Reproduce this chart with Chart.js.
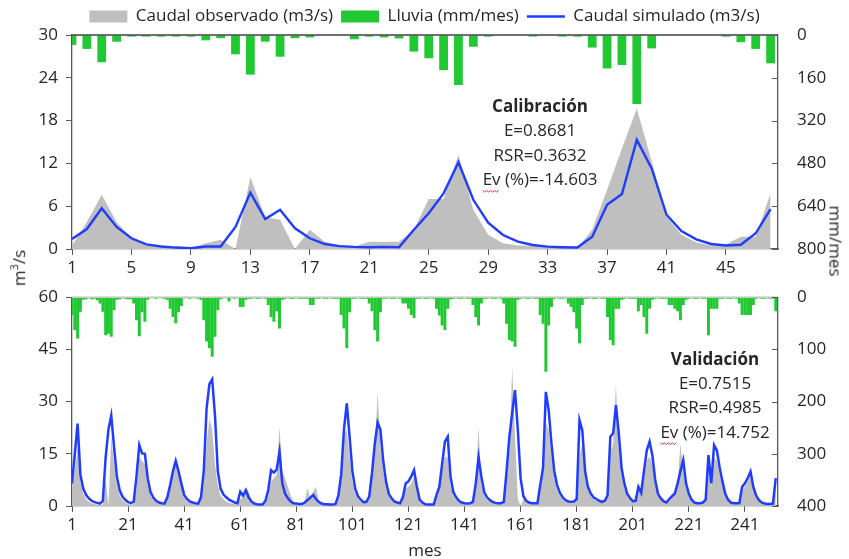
<!DOCTYPE html>
<html lang="es">
<head>
<meta charset="utf-8">
<script src="https://cdn.jsdelivr.net/npm/chart.js@4.4.1/dist/chart.umd.min.js"></script>
<style>
  html, body { margin: 0; padding: 0; background: #fff; }
  #wrap { position: relative; width: 849px; height: 559px; font-family: "Open Sans", sans-serif; color: #262626; }
  canvas { position: absolute; left: 0; }
  #cal { top: 0; }
  #val { top: 268px; }
  .eje { position: absolute; font-size: 17px; white-space: nowrap; transform-origin: center; }
</style>
</head>
<body>
<div id="wrap">
  <canvas id="cal" width="849" height="282"></canvas>
  <canvas id="val" width="849" height="291"></canvas>
  <div class="eje" style="left:18px;top:268px;transform:translate(-50%,-50%) rotate(-90deg)">m<sup style="font-size:11px">3</sup>/s</div>
  <div class="eje" style="left:836px;top:241px;transform:translate(-50%,-50%) rotate(90deg)">mm/mes</div>
  <div class="eje" style="left:425px;top:549px;transform:translate(-50%,-50%)">mes</div>
</div>
<script>
// Calibración (48 meses)
const qObsCal = [0.5, 3.8, 7.6, 3.8, 1.5, 0.5, 0.3, 0.15, 0.1, 0.8, 1.3, 0,
  10.1, 4.5, 4.1, 0, 2.7, 1.0, 0.5, 0.35, 1.0, 1.0, 1.0, 2.7,
  7.0, 7.0, 13.2, 5.5, 2.0, 0.8, 0.5, 0.5, 0.3, 0.2, 0.15, 2.7,
  8.3, 14.1, 19.7, 12.3, 4.6, 2.0, 0.9, 0.5, 0.65, 1.7, 1.7, 7.8];
const qSimCal = [1.4, 2.8, 5.7, 3.1, 1.5, 0.65, 0.35, 0.2, 0.1, 0.35, 0.35, 3.1,
  7.9, 4.2, 5.5, 2.9, 1.5, 0.7, 0.4, 0.3, 0.25, 0.3, 0.25, 2.7,
  5.0, 7.8, 12.15, 6.9, 3.7, 1.96, 1.03, 0.56, 0.33, 0.25, 0.2, 1.73,
  6.2, 7.7, 15.3, 11.3, 4.8, 2.5, 1.36, 0.7, 0.5, 0.6, 2.2, 5.6];
const lluviaCal = [37, 52, 102, 25, 6, 6, 6, 6, 6, 20, 12, 72,
  148, 25, 81, 12, 9, 0, 0, 16, 6, 9, 13, 62,
  87, 131, 187, 44, 6, 0, 0, 6, 0, 6, 6, 47,
  125, 112, 258, 50, 0, 0, 0, 0, 6, 27, 52, 106];
const ticksCal = [1, 5, 9, 13, 17, 21, 25, 29, 33, 37, 41, 45];

// Validación (252 meses)
const qObsVal = [5, 10, 17, 7, 3.5, 2, 1.2, 0.8, 0.5, 0.4, 0.3, 0.3,
  8, 0, 20, 12, 6, 3, 1.8, 1, 0.6, 0.5, 0.5, 5,
  14, 13, 12, 6, 3, 1.8, 1, 0.6, 0.5, 0.5, 2, 5,
  9, 13.5, 10, 6, 2.5, 1.4, 0.9, 0.6, 0.5, 0.5, 1.5, 6,
  18, 25, 22, 12, 6, 3, 2, 1.3, 0.9, 0.7, 0.5, 0.5,
  2, 2.5, 5, 4, 1, 0.5, 0.3, 0.3, 0.3, 1, 3, 7,
  8, 9, 22.8, 10, 8, 5.5, 3, 1.2, 0.6, 0.4, 0.4, 1.5,
  5.2, 2, 4, 5.5, 1.5, 0.5, 0.4, 0.3, 0.3, 0.3, 0.5, 2,
  7, 20, 22, 14, 7, 3.5, 2, 1.3, 0.9, 0.9, 2, 8,
  15, 32.8, 17, 10, 5.5, 2.8, 1.7, 1.1, 0.8, 0.7, 1.8, 5,
  5.5, 6.5, 8.5, 4, 1.2, 0.6, 0.4, 0.3, 0.3, 0.3, 2.5, 4.5,
  10, 14.2, 14, 6, 3, 1.8, 1.1, 0.7, 0.6, 0.5, 0.6, 1,
  5, 22.8, 6, 3, 1.8, 1.2, 0.9, 0.7, 0.6, 0.6, 1, 8,
  16, 40, 20, 2, 0, 2, 1, 0.7, 0.6, 0.6, 0.6, 4.5,
  10, 23.8, 22, 14, 8, 4.5, 3, 2, 1.3, 1, 1, 1,
  1.8, 14.2, 18, 8, 4.5, 3, 2, 1.5, 1.1, 0.9, 1.2, 2.5,
  15, 18, 35.2, 16, 9, 5, 2.8, 1.8, 1.1, 1.2, 4.5, 3,
  8, 13, 14.2, 12, 6, 2.8, 1.7, 1.1, 0.8, 1.6, 2.2, 3,
  6, 18, 10, 5, 2.8, 1.4, 0.8, 0.6, 0.6, 0.8, 1.4, 12,
  5.5, 14, 13, 9, 5.5, 2.8, 1.4, 0.8, 0.6, 0.6, 0.6, 4.5,
  5.5, 7, 8.4, 4.5, 2.4, 1.3, 0.8, 0.5, 0.5, 0.5, 0.6, 6];
const qSimVal = [6.5, 15, 23.7, 9, 5.0, 3.2, 2.2, 1.5, 1.1, 0.9, 0.7, 1.5,
  14, 22, 26, 17, 8.5, 4.5, 2.7, 1.8, 1.1, 0.9, 1.2, 8.5,
  17.5, 15.1, 15.0, 8, 4, 2.4, 1.5, 1.0, 0.8, 0.7, 2.5, 6,
  10, 13, 10, 6.5, 3.2, 2, 1.3, 1.0, 0.8, 0.7, 2.5, 10,
  28, 35, 36.4, 26, 10, 5, 3.3, 2.5, 1.8, 1.4, 1.0, 0.8,
  4.1, 3.0, 4.6, 2.5, 1.3, 0.7, 0.5, 0.4, 0.4, 1.5, 4.6, 10.3,
  9.6, 10.5, 15.6, 6.5, 3.5, 2.2, 1.3, 0.8, 0.7, 0.6, 0.6, 1.0,
  1.7, 2.4, 3.2, 2.0, 1.2, 0.7, 0.5, 0.5, 0.4, 0.4, 0.6, 3,
  9, 22, 29.5, 20, 10, 5, 2.8, 1.8, 1.1, 1.2, 2.7, 9.5,
  18, 24, 22, 13, 7, 3.5, 2.2, 1.3, 1.0, 0.8, 2.5, 6.5,
  7.1, 8.5, 10.3, 5.5, 1.8, 1.0, 0.5, 0.4, 0.4, 0.4, 3.2, 5.5,
  12, 18.5, 19.9, 8.5, 4, 2.5, 1.5, 1.0, 0.8, 0.7, 0.8, 1.2,
  6.5, 14, 8.5, 4, 2.5, 1.7, 1.2, 0.9, 0.8, 0.8, 1.2, 10,
  20, 26.6, 33.3, 22, 8, 2.8, 1.5, 1.0, 0.8, 0.8, 0.8, 6,
  11, 32.8, 27.6, 18, 10, 6, 3.8, 2.5, 1.7, 1.3, 1.2, 1.3,
  2, 24.7, 21.8, 10, 5.5, 3.6, 2.5, 2.0, 1.5, 1.2, 1.5, 3,
  19.9, 20.9, 29, 21, 11, 6.5, 3.5, 2.3, 1.4, 1.5, 5.5, 3.8,
  10, 16, 18.5, 14.5, 7.5, 3.5, 2.2, 1.4, 1.0, 2.0, 2.8, 3.6,
  6.5, 10, 13.2, 6.5, 3.5, 1.8, 1.0, 0.8, 0.8, 1.0, 1.8, 14.6,
  6.5, 17.5, 16, 11, 7, 3.5, 1.8, 1.0, 0.8, 0.8, 0.8, 5.5,
  6.5, 8, 9.9, 5.5, 3, 1.7, 1.0, 0.7, 0.6, 0.6, 0.7, 8];
const lluviaVal = [34, 63, 79, 28, 5, 4, 2, 4, 3, 6, 12, 28,
  73, 70, 76, 25, 5, 4, 2, 3, 4, 4, 12, 44,
  75, 29, 47, 5, 2, 2, 3, 2, 2, 3, 5, 22,
  38, 50, 29, 17, 2, 2, 3, 2, 2, 3, 5, 44,
  85, 98, 114, 76, 25, 4, 2, 2, 8, 2, 3, 2,
  19, 19, 5, 3, 3, 2, 3, 3, 2, 3, 15, 38,
  47, 27, 60, 5, 3, 2, 3, 3, 2, 3, 3, 3,
  3, 15, 15, 3, 3, 2, 3, 3, 2, 3, 3, 3,
  34, 60, 98, 29, 3, 3, 2, 3, 3, 3, 12, 27,
  63, 85, 29, 3, 3, 2, 3, 3, 2, 3, 12, 12,
  22, 34, 40, 3, 3, 2, 3, 3, 2, 3, 22, 35,
  54, 63, 22, 4, 3, 2, 3, 3, 2, 3, 3, 15,
  38, 54, 12, 3, 3, 2, 3, 3, 2, 3, 12, 51,
  82, 85, 95, 5, 3, 2, 3, 3, 2, 3, 3, 34,
  51, 143, 54, 19, 3, 2, 3, 3, 2, 12, 19, 29,
  60, 88, 15, 3, 3, 2, 3, 3, 2, 3, 3, 38,
  82, 92, 22, 22, 5, 3, 2, 3, 3, 3, 27, 15,
  38, 70, 22, 5, 3, 2, 3, 3, 3, 15, 15, 22,
  27, 44, 15, 5, 3, 2, 3, 3, 2, 3, 3, 73,
  22, 22, 22, 3, 3, 2, 3, 3, 2, 3, 12, 34,
  34, 34, 34, 15, 3, 2, 3, 3, 2, 3, 3, 27];
const ticksVal = [1, 21, 41, 61, 81, 101, 121, 141, 161, 181, 201, 221, 241];

const gris = '#bfbfbf';
const verde = '#20c832';
const azul = '#1f3cff';
const ejeColor = '#595959';
const fuente = { family: 'Open Sans', size: 17 };
const textoColor = '#262626';

// textos de indicadores, borde superior y marcas internas del eje derecho
const notasPlugin = {
  id: 'notas',
  afterDraw(chart, args, opts) {
    const { ctx, chartArea } = chart;
    const y2 = chart.scales.y2;
    ctx.save();
    ctx.strokeStyle = opts.borde;
    ctx.lineWidth = 1.3;
    ctx.beginPath();
    ctx.moveTo(chartArea.left, chartArea.top);
    ctx.lineTo(chartArea.right, chartArea.top);
    ctx.stroke();
    ctx.strokeStyle = ejeColor;
    ctx.lineWidth = 1;
    ctx.beginPath();
    y2.ticks.forEach(t => {
      const py = Math.round(y2.getPixelForValue(t.value)) + 0.5;
      ctx.moveTo(chartArea.right, py);
      ctx.lineTo(chartArea.right - 6, py);
    });
    ctx.stroke();
    ctx.fillStyle = textoColor;
    ctx.textAlign = 'center';
    ctx.textBaseline = 'middle';
    opts.lineas.forEach((t, i) => {
      ctx.font = (i === 0 ? 'bold ' : '') + '17px "Open Sans"';
      ctx.fillText(t, opts.x, opts.y + i * opts.paso);
    });
    // subrayado ondulado bajo "Ev"
    ctx.font = '17px "Open Sans"';
    const wLinea = ctx.measureText(opts.lineas[3]).width;
    const wEv = ctx.measureText('Ev').width;
    const x0 = opts.x - wLinea / 2;
    const yS = opts.y + 3 * opts.paso + 10;
    ctx.strokeStyle = '#e03030';
    ctx.lineWidth = 1;
    ctx.beginPath();
    for (let x = 0; x <= wEv; x += 2) {
      const py = yS + ((x / 2) % 2 === 0 ? 0 : 1.5);
      if (x === 0) ctx.moveTo(x0 + x, py); else ctx.lineTo(x0 + x, py);
    }
    ctx.stroke();
    ctx.restore();
  }
};

function escalas(xMax, xTicks, yMax, yStep, y2Max, y2Step, xAlto) {
  const grid = { display: true, offset: false, drawOnChartArea: false, drawTicks: true, tickLength: 6, color: ejeColor, lineWidth: 1 };
  const borde = { display: true, color: ejeColor, width: 1.3 };
  return {
    x: {
      type: 'linear', min: 1, max: xMax, offset: false,
      afterBuildTicks: s => { s.ticks = xTicks.map(v => ({ value: v })); },
      afterFit: s => { s.height = xAlto; },
      ticks: { font: fuente, color: textoColor, padding: 3, maxRotation: 0, autoSkip: false },
      grid, border: borde
    },
    y: {
      position: 'left', min: 0, max: yMax,
      afterFit: s => { s.width = 72; },
      ticks: { stepSize: yStep, font: fuente, color: textoColor, padding: 8 },
      grid, border: borde
    },
    y2: {
      position: 'right', reverse: true, min: 0, max: y2Max,
      afterFit: s => { s.width = 71; },
      ticks: { stepSize: y2Step, font: fuente, color: textoColor, padding: 19 },
      grid: { display: true, drawOnChartArea: false, drawTicks: false },
      border: borde
    }
  };
}

function series(meses, sim, lluvia, obs, barra, grosor) {
  return {
    labels: meses,
    datasets: [
      {
        type: 'line', label: 'Caudal simulado (m3/s)', data: sim, yAxisID: 'y',
        borderColor: azul, backgroundColor: azul, borderWidth: grosor,
        pointRadius: 0, tension: 0, pointStyle: 'line'
      },
      {
        type: 'bar', label: 'Lluvia (mm/mes)', data: lluvia, yAxisID: 'y2',
        backgroundColor: verde, borderWidth: 0,
        barPercentage: barra, categoryPercentage: 1, pointStyle: 'rect'
      },
      {
        type: 'line', label: 'Caudal observado (m3/s)', data: obs, yAxisID: 'y',
        borderWidth: 0, borderColor: gris, backgroundColor: gris, fill: 'origin',
        pointRadius: 0, tension: 0, pointStyle: 'rect'
      }
    ]
  };
}

const mesesCal = qObsCal.map((_, i) => i + 1);
const mesesVal = qObsVal.map((_, i) => i + 1);

new Chart(document.getElementById('cal'), {
  data: series(mesesCal, qSimCal, lluviaCal, qObsCal, 0.59, 2.4),
  options: {
    responsive: false, animation: false,
    layout: { padding: 0 },
    scales: escalas(48.5, ticksCal, 30, 6, 800, 160, 33),
    plugins: {
      legend: {
        position: 'top',
        labels: {
          font: fuente, color: textoColor, padding: 8,
          usePointStyle: true, pointStyleWidth: 38, boxHeight: 12,
          sort: (a, b) => b.datasetIndex - a.datasetIndex
        }
      },
      tooltip: { enabled: false },
      notas: { borde: '#404040', x: 540, y: 107, paso: 24.5,
        lineas: ['Calibración', 'E=0.8681', 'RSR=0.3632', 'Ev (%)=-14.603'] }
    }
  },
  plugins: [notasPlugin]
});

new Chart(document.getElementById('val'), {
  data: series(mesesVal, qSimVal, lluviaVal, qObsVal, 1.05, 2.5),
  options: {
    responsive: false, animation: false,
    layout: { padding: { top: 5 } },
    scales: escalas(252.8, ticksVal, 60, 15, 400, 100, 53),
    plugins: {
      legend: { display: false },
      tooltip: { enabled: false },
      notas: { borde: '#c0c0c0', x: 715, y: 92, paso: 24.3,
        lineas: ['Validación', 'E=0.7515', 'RSR=0.4985', 'Ev (%)=14.752'] }
    }
  },
  plugins: [notasPlugin]
});
</script>
</body>
</html>
